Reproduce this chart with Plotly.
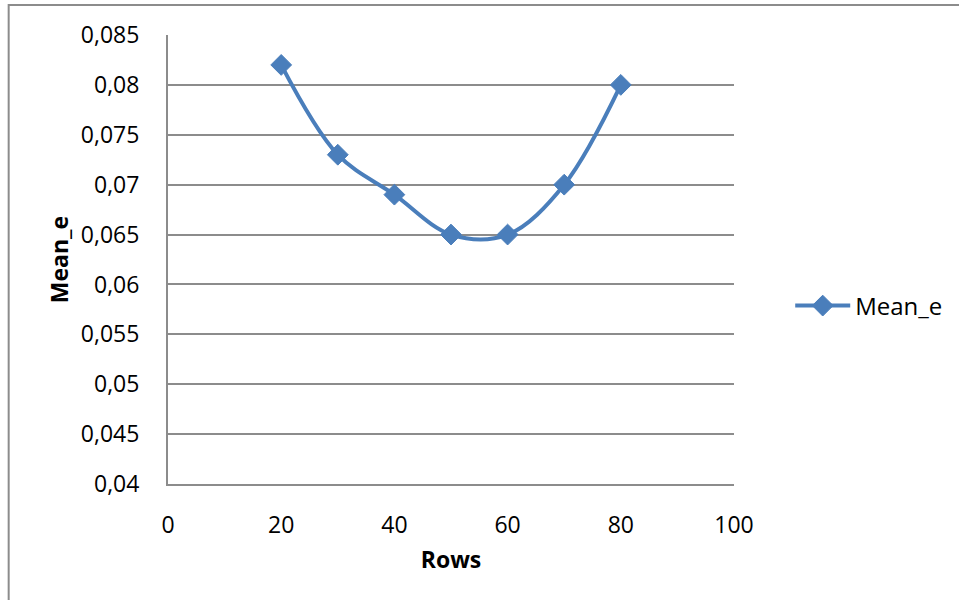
import plotly.graph_objects as go

# Mean error per number of rows
rows = [20, 30, 40, 50, 60, 70, 80]
mean_e = [0.082, 0.073, 0.069, 0.065, 0.065, 0.070, 0.080]

x_ticks = [0, 20, 40, 60, 80, 100]
y_ticks = [0.04, 0.045, 0.05, 0.055, 0.06, 0.065, 0.07, 0.075, 0.08, 0.085]
y_tick_text = ["0,04", "0,045", "0,05", "0,055", "0,06", "0,065", "0,07", "0,075", "0,08", "0,085"]

BLUE = "#4A7EBB"
GRID = "#8C8C8C"
FONT = "Open Sans"

fig = go.Figure()
fig.add_trace(go.Scatter(
    x=rows, y=mean_e, name="Mean_e",
    mode="lines+markers",
    line=dict(color=BLUE, width=4, shape="spline", smoothing=1.0),
    marker=dict(symbol="diamond", size=16, color=BLUE, line=dict(color=BLUE, width=1)),
))

fig.update_layout(
    width=959, height=600,
    margin=dict(l=168, r=225, t=35, b=116),
    paper_bgcolor="white", plot_bgcolor="white",
    font=dict(family=FONT, size=23, color="black"),
    showlegend=True,
    legend=dict(xref="container", yref="container", x=0.824, y=0.49,
                xanchor="left", yanchor="middle",
                itemwidth=55,
                font=dict(family=FONT, size=24, color="black"),
                bgcolor="rgba(0,0,0,0)"),
    xaxis=dict(
        range=[0, 100], tickvals=x_ticks, ticktext=[str(v) for v in x_ticks],
        showgrid=False, zeroline=False, showline=True, linecolor=GRID, linewidth=2,
        ticks="", ticklabelstandoff=19,
        title=dict(text="<b>Rows</b>", font=dict(family=FONT, size=23), standoff=13),
    ),
    yaxis=dict(
        range=[0.04, 0.085], tickvals=y_ticks, ticktext=y_tick_text,
        showgrid=True, gridcolor=GRID, gridwidth=1.5,
        zeroline=False, showline=True, linecolor=GRID, linewidth=2,
        ticks="", ticklabelstandoff=22,
        title=dict(text="<b>Mean_e</b>", font=dict(family=FONT, size=23), standoff=6),
    ),
    shapes=[dict(type="rect", xref="paper", yref="paper",
                 x0=-0.2815, x1=1.45, y0=-0.4, y1=1.0668,
                 line=dict(color="#8C8C8C", width=2), fillcolor="rgba(0,0,0,0)",
                 layer="below")],
)

fig.write_html("out.html")
